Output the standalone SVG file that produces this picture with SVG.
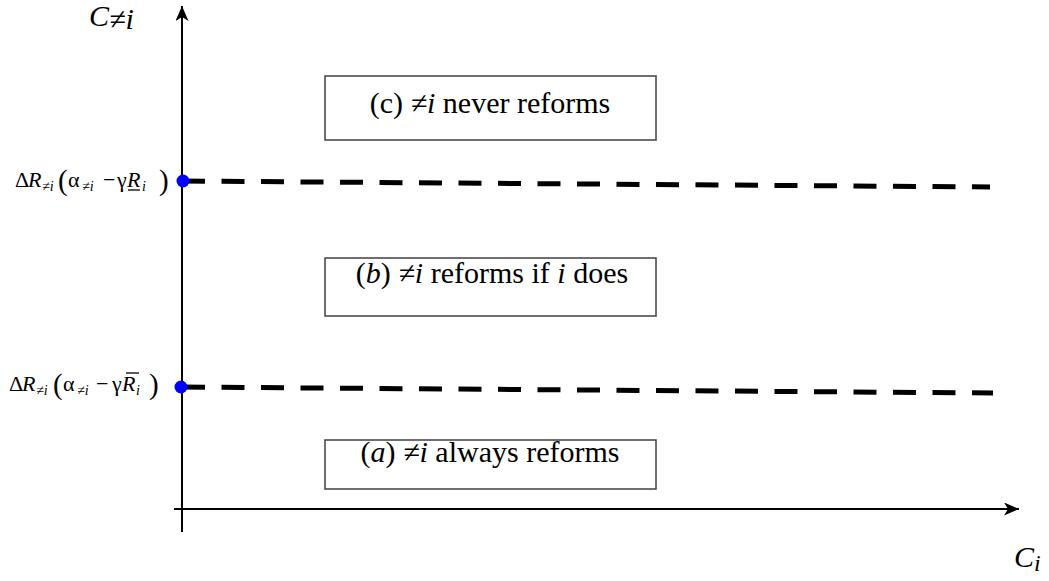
<svg xmlns="http://www.w3.org/2000/svg" width="1049" height="581" viewBox="0 0 1049 581">
<defs>
<marker id="arr" markerUnits="userSpaceOnUse" markerWidth="16" markerHeight="14" refX="15" refY="6.5" orient="auto">
<path d="M0,0 L15,6.5 L0,13 L4,6.5 z" fill="#000"/>
</marker>
<style>
.ax{stroke:#000;stroke-width:2;fill:none}
.dash{stroke:#000;stroke-width:5;stroke-dasharray:23 16.5;fill:none}
.box{fill:#fff;stroke:#404040;stroke-width:1.5}
.bt{font-family:"Liberation Serif","Times New Roman",serif;font-size:30px;fill:#000}
.m{font-family:"Liberation Serif","Times New Roman",serif;font-size:22px;fill:#000}
.s{font-size:14px}
.p{font-size:29px}
.it{font-style:italic}
.dot{fill:#0000ff}
</style>
</defs>
<g id="connectors">
<line class="ax" x1="182" y1="532" x2="182" y2="6" marker-end="url(#arr)"/>
<line class="ax" x1="174" y1="509" x2="1019" y2="509" marker-end="url(#arr)"/>
<line class="dash" x1="182" y1="181" x2="990" y2="187"/>
<line class="dash" x1="182" y1="387" x2="993" y2="393"/>
</g>
<g id="axis-y-label">
<text class="bt" x="89" y="26" font-size="26"><tspan class="it">C</tspan><tspan class="it" dy="3">≠i</tspan></text>
</g>
<g id="axis-x-label">
<text class="bt" x="1014" y="567" font-size="28"><tspan class="it">C</tspan><tspan class="it" dy="4" font-size="24">i</tspan></text>
</g>
<g id="dot-upper">
<circle class="dot" cx="183" cy="181" r="6.5"/>
<text class="m" y="187"><tspan x="15">Δ</tspan><tspan class="it" x="28">R</tspan><tspan class="s it" x="42" dy="4">≠i</tspan><tspan class="p" x="58" dy="-1">(</tspan><tspan x="68" dy="-3">α</tspan><tspan class="s it" x="82" dy="4">≠i</tspan><tspan x="103" dy="-4">−</tspan><tspan x="117">γ</tspan><tspan class="it" x="127">R</tspan><tspan class="s it" x="142" dy="4">i</tspan><tspan class="p" x="159" dy="-1">)</tspan></text>
<line x1="128" y1="190" x2="140" y2="190" stroke="#000" stroke-width="1.3"/>
</g>
<g id="dot-lower">
<circle class="dot" cx="181" cy="387" r="6.5"/>
<text class="m" y="391"><tspan x="9">Δ</tspan><tspan class="it" x="22">R</tspan><tspan class="s it" x="36" dy="4">≠i</tspan><tspan class="p" x="53" dy="-1">(</tspan><tspan x="63" dy="-3">α</tspan><tspan class="s it" x="77" dy="4">≠i</tspan><tspan x="96" dy="-4">−</tspan><tspan x="112">γ</tspan><tspan class="it" x="122">R</tspan><tspan class="s it" x="136" dy="4">i</tspan><tspan class="p" x="149" dy="-1">)</tspan></text>
<line x1="126" y1="373" x2="139" y2="373" stroke="#000" stroke-width="1.3"/>
</g>
<g id="box-c">
<rect class="box" x="325" y="76" width="331" height="64"/>
<text class="bt" x="490" y="113" text-anchor="middle">(c) <tspan class="it">≠i</tspan> never reforms</text>
</g>
<g id="box-b">
<rect class="box" x="325" y="258" width="331" height="58"/>
<text class="bt" x="492" y="283" text-anchor="middle">(<tspan class="it">b</tspan>) <tspan class="it">≠i</tspan> reforms if <tspan class="it">i</tspan> does</text>
</g>
<g id="box-a">
<rect class="box" x="325" y="440" width="331" height="49"/>
<text class="bt" x="490" y="462" text-anchor="middle">(<tspan class="it">a</tspan>) <tspan class="it">≠i</tspan> always reforms</text>
</g>
</svg>
